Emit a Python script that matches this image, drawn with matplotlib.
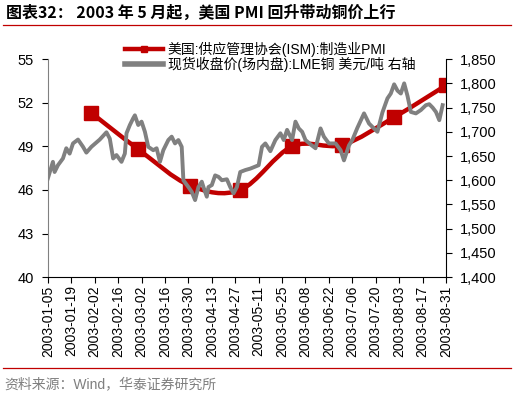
import numpy as np
import pandas as pd
import matplotlib
matplotlib.use("Agg")
import matplotlib.pyplot as plt
import matplotlib.dates as mdates
from matplotlib.path import Path
from matplotlib.patches import PathPatch
from matplotlib.lines import Line2D
from matplotlib.ticker import FuncFormatter

plt.rcParams['font.family'] = ['Liberation Sans', 'Noto Sans CJK SC', 'DejaVu Sans']

# ISM manufacturing PMI (month end)
pmi_dates = ['2003-01-31', '2003-02-28', '2003-03-31', '2003-04-30',
             '2003-05-31', '2003-06-30', '2003-07-31', '2003-08-31']
pmi_vals = [51.3, 48.8, 46.3, 46.0, 49.0, 49.1, 51.0, 53.2]

# LME copper spot close, USD/t
cu_dates = ['2003-01-05', '2003-01-08', '2003-01-09', '2003-01-11', '2003-01-14',
            '2003-01-16', '2003-01-18', '2003-01-20', '2003-01-23', '2003-01-26',
            '2003-01-28', '2003-01-31', '2003-02-05', '2003-02-09', '2003-02-11',
            '2003-02-13', '2003-02-15', '2003-02-18', '2003-02-20', '2003-02-21',
            '2003-02-23', '2003-02-25', '2003-02-26', '2003-02-28', '2003-03-02',
            '2003-03-04', '2003-03-06', '2003-03-09', '2003-03-11', '2003-03-13',
            '2003-03-15', '2003-03-18', '2003-03-20', '2003-03-22', '2003-03-24',
            '2003-03-26', '2003-03-27', '2003-03-30', '2003-04-01', '2003-04-03',
            '2003-04-05', '2003-04-07', '2003-04-08', '2003-04-10', '2003-04-11',
            '2003-04-13', '2003-04-15', '2003-04-17', '2003-04-19', '2003-04-22',
            '2003-04-24', '2003-04-26', '2003-04-28', '2003-04-30', '2003-05-03',
            '2003-05-06', '2003-05-11', '2003-05-13', '2003-05-15', '2003-05-18',
            '2003-05-21', '2003-05-24', '2003-05-26', '2003-05-28', '2003-05-31',
            '2003-06-02', '2003-06-04', '2003-06-06', '2003-06-08', '2003-06-11',
            '2003-06-14', '2003-06-17', '2003-06-19', '2003-06-22', '2003-06-26',
            '2003-06-29', '2003-07-01', '2003-07-04', '2003-07-06', '2003-07-09',
            '2003-07-13', '2003-07-16', '2003-07-21', '2003-07-24', '2003-07-27',
            '2003-07-29', '2003-07-31', '2003-08-02', '2003-08-04', '2003-08-06',
            '2003-08-08', '2003-08-10', '2003-08-13', '2003-08-16', '2003-08-19',
            '2003-08-21', '2003-08-23', '2003-08-25', '2003-08-27', '2003-08-29']
cu_vals = [1604, 1638, 1617, 1631, 1645,
           1666, 1655, 1676, 1684, 1669,
           1657, 1669, 1684, 1699, 1686,
           1645, 1652, 1638, 1655, 1697,
           1714, 1728, 1734, 1714, 1721,
           1700, 1669, 1662, 1666, 1638,
           1662, 1683, 1690, 1676, 1683,
           1669, 1600, 1586, 1576, 1559,
           1586, 1597, 1586, 1566, 1586,
           1590, 1610, 1607, 1600, 1602,
           1586, 1573, 1586, 1617, 1621,
           1624, 1631, 1669, 1676, 1660,
           1683, 1697, 1683, 1704, 1683,
           1721, 1707, 1700, 1683, 1674,
           1666, 1707, 1690, 1676, 1676,
           1662, 1641, 1672, 1683, 1708,
           1738, 1717, 1700, 1740, 1769,
           1779, 1798, 1785, 1779, 1800,
           1774, 1741, 1738, 1745, 1755,
           1757, 1750, 1741, 1724, 1755]

tick_dates = pd.date_range('2003-01-05', '2003-08-31', freq='14D')

title = '图表32： 2003 年 5 月起，美国 PMI 回升带动铜价上行'
source = '资料来源：Wind，华泰证券研究所'
label_pmi = '美国:供应管理协会(ISM):制造业PMI'
label_cu = '现货收盘价(场内盘):LME铜 美元/吨 右轴'

red = '#C00000'
grey = '#808080'

fig = plt.figure(figsize=(5.15, 3.97), dpi=100)
ax = fig.add_axes([0.093, 0.302, 0.773, 0.549])
ax2 = ax.twinx()

# smoothed PMI line (Catmull-Rom style bezier, like excel "smoothed line")
px = mdates.date2num(pd.to_datetime(pmi_dates))
py = np.array(pmi_vals, dtype=float)
pts = np.column_stack([px, py])
verts = [pts[0]]
codes = [Path.MOVETO]
for i in range(len(pts) - 1):
    p0 = pts[i - 1] if i > 0 else pts[i]
    p3 = pts[i + 2] if i + 2 < len(pts) else pts[i + 1]
    c1 = pts[i] + (pts[i + 1] - p0) / 6
    c2 = pts[i + 1] - (p3 - pts[i]) / 6
    verts += [c1, c2, pts[i + 1]]
    codes += [Path.CURVE4] * 3
ax.add_patch(PathPatch(Path(verts, codes), fill=False, edgecolor=red,
                       lw=3.2, capstyle='round', joinstyle='round'))
ax.plot(pd.to_datetime(pmi_dates), pmi_vals, ls='none', marker='s',
        ms=10, color=red)

ax2.plot(pd.to_datetime(cu_dates), cu_vals, color=grey, lw=2.8,
         solid_joinstyle='round')

ax.set_xlim(pd.Timestamp('2003-01-05'), pd.Timestamp('2003-08-31'))
ax.set_ylim(40, 55)
ax.set_yticks(np.arange(40, 56, 3))
ax2.set_ylim(1400, 1850)
ax2.set_yticks(np.arange(1400, 1851, 50))
ax2.yaxis.set_major_formatter(FuncFormatter(lambda v, p: f'{int(v):,}'))

ax.set_xticks(tick_dates)
ax.set_xticklabels([d.strftime('%Y-%m-%d') for d in tick_dates], rotation=90)

for a in (ax, ax2):
    a.spines['top'].set_visible(False)
    a.tick_params(axis='y', labelsize=10.5, length=4, width=0.8, pad=6)
ax.tick_params(axis='x', labelsize=10, length=4, width=0.8, pad=2)
ax.spines['left'].set_color('#808080')
ax.spines['right'].set_visible(False)
ax2.spines['left'].set_visible(False)
ax2.spines['bottom'].set_visible(False)

handles = [Line2D([], [], color=red, lw=3.2, marker='s', ms=5),
           Line2D([], [], color=grey, lw=4)]
fig.legend(handles, [label_pmi, label_cu], loc='upper left',
           bbox_to_anchor=(0.243, 0.895), frameon=False, fontsize=10,
           handlelength=2.7, handletextpad=0.35, labelspacing=0.0,
           borderaxespad=0, borderpad=0)

fig.text(0.012, 0.968, title, fontsize=11.5, fontweight='bold', va='center',
         family=['Noto Sans CJK SC', 'DejaVu Sans'])
fig.add_artist(Line2D([0.006, 0.992], [0.938, 0.938], color=red, lw=0.9))
fig.add_artist(Line2D([0.006, 0.992], [0.073, 0.073], color=red, lw=0.9))
fig.text(0.008, 0.032, source, fontsize=10, color='#7f7f7f', va='center')

fig.savefig('out.png', dpi=100)
